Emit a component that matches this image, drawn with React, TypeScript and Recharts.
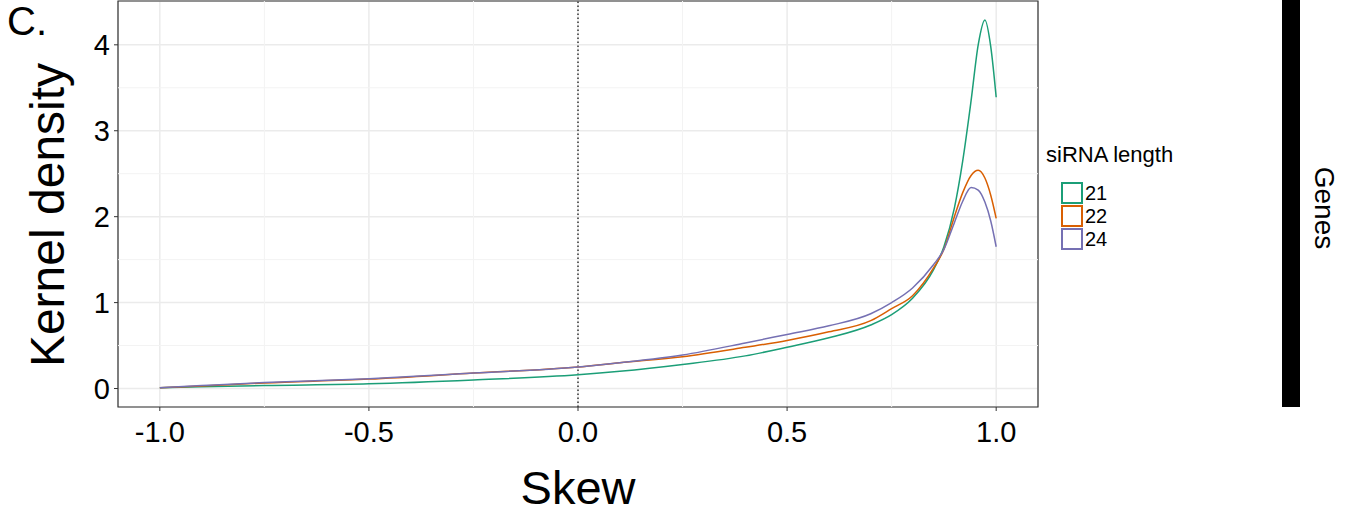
import React from 'react'
import { CartesianGrid, Line, LineChart, ReferenceArea, ReferenceLine, XAxis, YAxis } from 'recharts'

const skew = [-1.0, -0.9, -0.75, -0.5, -0.25, 0, 0.1, 0.25, 0.4, 0.5, 0.6, 0.7, 0.75, 0.8, 0.85, 0.875, 0.9, 0.92, 0.94, 0.957, 0.973, 0.987, 1.0]
const len21 = [0.01, 0.02, 0.035, 0.055, 0.1, 0.16, 0.2, 0.28, 0.38, 0.48, 0.59, 0.74, 0.86, 1.05, 1.38, 1.65, 2.1, 2.65, 3.35, 4.0, 4.29, 3.98, 3.39]
const len22 = [0.01, 0.03, 0.065, 0.11, 0.18, 0.25, 0.3, 0.37, 0.48, 0.56, 0.66, 0.79, 0.93, 1.08, 1.4, 1.62, 2.0, 2.28, 2.48, 2.54, 2.45, 2.25, 1.98]
const len24 = [0.01, 0.035, 0.07, 0.115, 0.18, 0.25, 0.3, 0.39, 0.53, 0.63, 0.73, 0.87, 1.0, 1.17, 1.44, 1.62, 1.93, 2.18, 2.34, 2.31, 2.17, 1.95, 1.65]

const xTicks = [-1, -0.5, 0, 0.5, 1]
const yTicks = [0, 1, 2, 3, 4]
const xMinor = [-0.75, -0.25, 0.25, 0.75]
const yMinor = [0.5, 1.5, 2.5, 3.5]

const series = [
  { key: 'l21', name: '21', color: '#1B9E77' },
  { key: 'l22', name: '22', color: '#D95F02' },
  { key: 'l24', name: '24', color: '#7570B3' },
]

const data = skew.map((x, i) => ({ x, l21: len21[i], l22: len22[i], l24: len24[i] }))

const font = '"Liberation Sans", Arial, sans-serif'
const tickStyle = { fontSize: 29, fill: '#000', fontFamily: font }

function SizeLegend() {
  return (
    <div style={{ position: 'absolute', left: 1046, top: 144, fontFamily: font, color: '#000' }}>
      <div style={{ fontSize: 22, lineHeight: '22px', marginBottom: 15 }}>siRNA length</div>
      {series.map((s) => (
        <div key={s.key} style={{ display: 'flex', alignItems: 'center', height: 23, marginLeft: 15 }}>
          <div style={{ width: 18, height: 18, borderWidth: 2, borderStyle: 'solid', borderColor: s.color, background: '#fff' }} />
          <span style={{ fontSize: 20, marginLeft: 2, lineHeight: '20px' }}>{s.name}</span>
        </div>
      ))}
    </div>
  )
}

export default function App() {
  return (
    <div style={{ position: 'absolute', left: 0, top: 0, width: 1347, height: 525, background: '#fff', overflow: 'hidden' }}>
      <LineChart width={1347} height={525} data={data} margin={{ top: 1, right: 309, bottom: 70, left: 0 }}>
        <CartesianGrid stroke="#ebebeb" strokeWidth={1.5} />
        {xMinor.map((v) => (
          <ReferenceLine key={'x' + v} x={v} stroke="#f3f3f3" strokeWidth={1} />
        ))}
        {yMinor.map((v) => (
          <ReferenceLine key={'y' + v} y={v} stroke="#f3f3f3" strokeWidth={1} />
        ))}
        <XAxis
          dataKey="x"
          type="number"
          domain={[-1.1, 1.1]}
          ticks={xTicks}
          tickFormatter={(v: number) => v.toFixed(1)}
          tick={tickStyle}
          tickLine={{ stroke: '#333' }}
          tickSize={4}
          tickMargin={10}
          axisLine={false}
          height={48}
          allowDataOverflow
        />
        <YAxis
          type="number"
          domain={[-0.215, 4.51]}
          ticks={yTicks}
          tick={tickStyle}
          tickLine={{ stroke: '#333' }}
          tickSize={4}
          tickMargin={4}
          axisLine={false}
          width={118}
          allowDataOverflow
        />
        <ReferenceLine x={0} stroke="#333" strokeWidth={1.5} strokeDasharray="1.5 2.5" />
        {series.map((s) => (
          <Line
            key={s.key}
            type="monotone"
            dataKey={s.key}
            name={s.name}
            stroke={s.color}
            strokeWidth={1.5}
            dot={false}
            isAnimationActive={false}
          />
        ))}
        <ReferenceArea x1={-1.1} x2={1.1} y1={-0.215} y2={4.51} fill="none" stroke="#333" strokeWidth={1.2} />
      </LineChart>

      <SizeLegend />
      <div style={{ position: 'absolute', left: 7, top: 1, fontFamily: font, fontSize: 40, lineHeight: '40px' }}>C.</div>
      <div style={{ position: 'absolute', left: 378, top: 464, width: 400, textAlign: 'center', fontFamily: font, fontSize: 47, lineHeight: '47px' }}>Skew</div>
      <div
        style={{
          position: 'absolute',
          left: 48 - 200,
          top: 215 - 24,
          width: 400,
          height: 48,
          textAlign: 'center',
          fontFamily: font,
          fontSize: 48,
          lineHeight: '48px',
          transform: 'rotate(-90deg)',
          transformOrigin: 'center',
        }}
      >
        Kernel density
      </div>
      <div style={{ position: 'absolute', left: 1282, top: 0, width: 18, height: 407, background: '#000' }} />
      <div
        style={{
          position: 'absolute',
          left: 1324 - 100,
          top: 208 - 14,
          width: 200,
          height: 28,
          textAlign: 'center',
          fontFamily: font,
          fontSize: 28,
          lineHeight: '28px',
          transform: 'rotate(90deg)',
          transformOrigin: 'center',
        }}
      >
        Genes
      </div>
    </div>
  )
}
